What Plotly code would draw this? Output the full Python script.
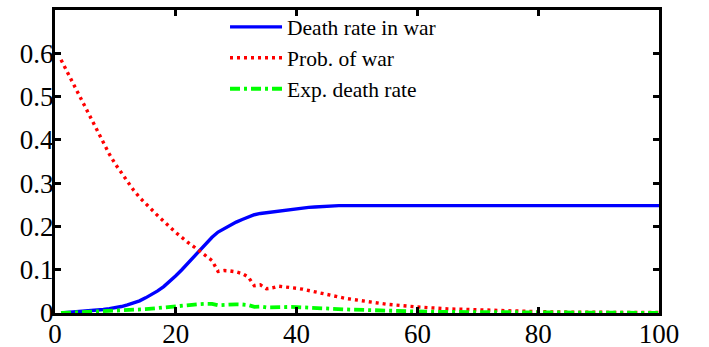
import plotly.graph_objects as go

# Horizon (x) grid shared by the three series
x_vals = list(range(1, 51)) + [55, 60, 65, 70, 75, 80, 85, 90, 95, 100]

death_rate_in_war = [
    0.000, 0.001, 0.002, 0.003, 0.004, 0.005, 0.006, 0.008, 0.010, 0.012,
    0.015, 0.019, 0.023, 0.028, 0.035, 0.042, 0.051, 0.061, 0.073, 0.086,
    0.100, 0.115, 0.130, 0.145, 0.160, 0.175, 0.187, 0.195, 0.203, 0.210,
    0.216, 0.222, 0.227, 0.230, 0.232, 0.233, 0.234, 0.236, 0.238, 0.240,
    0.242, 0.244, 0.245, 0.246, 0.247, 0.247, 0.248, 0.248, 0.248, 0.248,
    0.248, 0.248, 0.248, 0.248, 0.248, 0.248, 0.248, 0.248, 0.248, 0.248,
]

prob_of_war = [
    0.585, 0.558, 0.531, 0.503, 0.475, 0.447, 0.420, 0.393, 0.367, 0.344,
    0.324, 0.303, 0.284, 0.267, 0.252, 0.239, 0.225, 0.213, 0.199, 0.186,
    0.174, 0.163, 0.153, 0.142, 0.133, 0.121, 0.096, 0.098, 0.097, 0.095,
    0.091, 0.083, 0.063, 0.065, 0.056, 0.058, 0.062, 0.061, 0.059, 0.057,
    0.055, 0.052, 0.050, 0.046, 0.042, 0.039, 0.037, 0.034, 0.032, 0.030,
    0.020, 0.014, 0.0095, 0.0075, 0.005, 0.003, 0.002, 0.0015, 0.001, 0.001,
]

exp_death_rate = [
    0.000, 0.0006, 0.001, 0.0015, 0.002, 0.0022, 0.0025, 0.003, 0.0037, 0.0041,
    0.0049, 0.0058, 0.0065, 0.0075, 0.0088, 0.010, 0.0115, 0.013, 0.0145, 0.016,
    0.0174, 0.0187, 0.0199, 0.0206, 0.0213, 0.0212, 0.018, 0.0191, 0.0197, 0.020,
    0.0197, 0.0184, 0.0143, 0.015, 0.013, 0.0135, 0.0145, 0.0144, 0.014, 0.0137,
    0.0133, 0.0127, 0.0122, 0.0113, 0.0104, 0.0096, 0.0092, 0.0084, 0.0079, 0.0074,
    0.005, 0.0035, 0.0024, 0.0019, 0.0012, 0.0007, 0.0005, 0.0004, 0.0002, 0.0002,
]

x_ticks = [0, 20, 40, 60, 80, 100]
y_ticks = [0, 0.1, 0.2, 0.3, 0.4, 0.5, 0.6]

FONT = "Liberation Serif"

fig = go.Figure()
fig.add_trace(go.Scatter(
    x=x_vals, y=death_rate_in_war, mode="lines", name="Death rate in war",
    line=dict(color="#0000ff", width=3.4),
))
fig.add_trace(go.Scatter(
    x=x_vals, y=prob_of_war, mode="lines", name="Prob. of war",
    line=dict(color="#ff0000", width=3.4, dash="3px,4px"),
))
fig.add_trace(go.Scatter(
    x=x_vals, y=exp_death_rate, mode="lines", name="Exp. death rate",
    line=dict(color="#00ff00", width=3.8, dash="10px,4px,3px,4px"),
))

axis_common = dict(
    showline=True, linecolor="black", linewidth=3, mirror="allticks",
    ticks="inside", ticklen=6, tickwidth=2.5, tickcolor="black",
    showgrid=False, zeroline=False, automargin=False,
    tickfont=dict(family=FONT, size=27, color="black"),
)

fig.update_layout(
    width=709, height=347,
    font=dict(family=FONT, color="black"),
    margin=dict(l=55, r=50, t=10, b=34, autoexpand=False),
    paper_bgcolor="white", plot_bgcolor="white",
    xaxis=dict(range=[0, 100], tickvals=x_ticks, ticklabelstandoff=-5,
               ticktext=[str(v) for v in x_ticks], **axis_common),
    yaxis=dict(range=[0, 0.7], tickvals=y_ticks, ticklabelstandoff=-7,
               ticktext=["0", "0.1", "0.2", "0.3", "0.4", "0.5", "0.6"], **axis_common),
    legend=dict(
        x=0.2815, y=1.012, xanchor="left", yanchor="top",
        bgcolor="rgba(255,255,255,0)", borderwidth=0,
        font=dict(family=FONT, size=21.5, color="black"),
        tracegroupgap=0, itemwidth=52,
    ),
    showlegend=True,
)

fig.write_html("out.html")
